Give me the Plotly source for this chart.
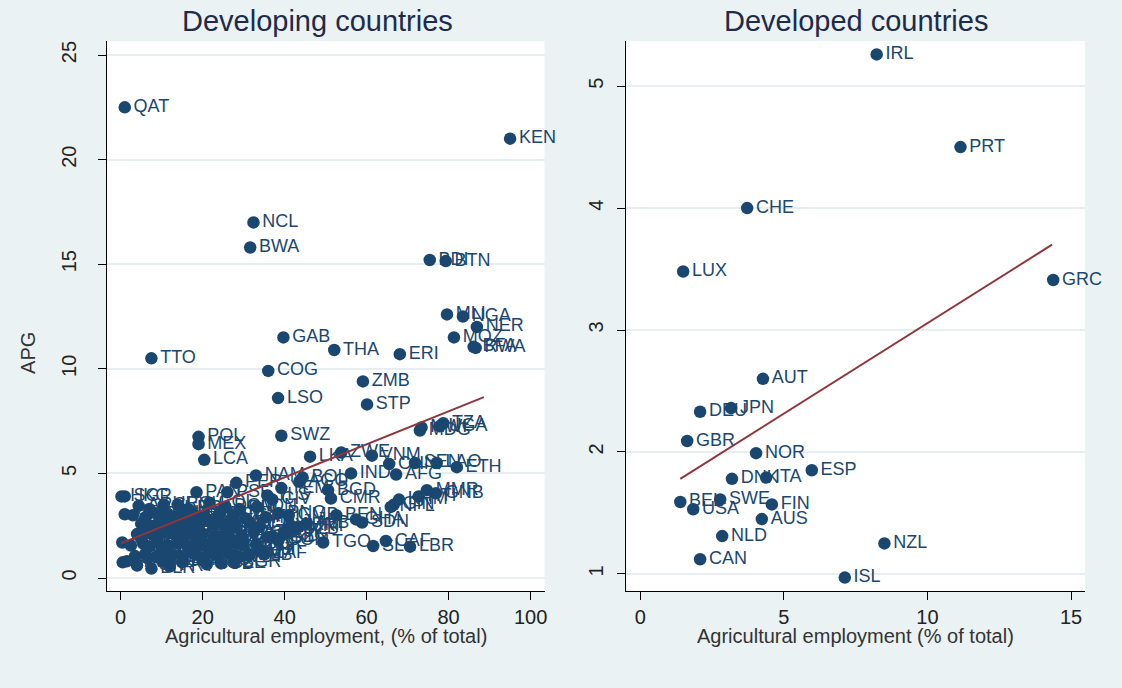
import plotly.graph_objects as go

# ---- Developing countries: agricultural employment share vs APG ----
dev_code = [
    "QAT", "KEN", "NCL", "BWA", "BDI", "BTN", "MLI", "NGA", "NER", "MOZ", "BFA", "RWA",
    "GAB", "THA", "ERI", "TTO", "COG", "ZMB", "LSO", "STP", "MDG", "MWI", "TZA", "UGA",
    "POL", "MEX", "LCA", "SWZ", "LKA", "ZWE", "VNM", "IND", "AFG", "CHN", "SEN", "LAO", "ETH",
    "NAM", "BOL", "YEM", "BGD", "CMR", "MMR", "GNB", "HTI", "KHM", "NPL", "GIN",
    "BEN", "GHA", "SDN", "ALB", "TJK", "UZB", "TGO", "CAF", "SLE", "LBR", "HND",
    "PAN", "HKG", "SGP", "KWT", "MAC", "BHR",
    "PER", "PSE", "AGO", "TLS", "CIV", "GMB", "MRT", "COM", "DJI",
    "ARG", "CHL", "URY", "ECU", "BRA", "COL", "DOM", "PHL", "IDN",
    "SAU", "OMN", "LBN", "JOR", "TUR", "VEN", "CRI", "SLV", "JAM", "EGY", "GTM", "FJI", "PNG",
    "ARE", "BHS", "MUS", "MYS", "TUN", "DZA", "MAR", "IRN", "SYR", "NIC", "BLZ", "GUY", "ARM",
    "BRN", "LBY", "RUS", "UKR", "KAZ", "HRV", "ROU", "SRB", "MKD", "BIH", "GEO", "AZE", "KGZ",
    "SYC", "EST", "LVA", "LTU", "HUN", "SVK", "SVN", "MNE", "MDA", "TKM", "IRQ", "MNG", "SUR",
    "CPV", "GRD", "DMA", "KNA", "VCT", "ATG", "BRB", "MDV", "TON", "WSM", "VUT", "SLB", "ZAF",
    "KOR", "BLR", "CUB", "CZE", "BGR", "PRY", "PRI",
    "PYF", "GUF", "GLP", "MTQ", "REU", "ABW", "CUW", "GUM", "VIR", "BMU", "CYM", "TCA",
    "MSR", "AIA", "NRU", "TUV",
]
dev_x = [
    1.0, 95.0, 32.4, 31.6, 75.4, 79.3, 79.6, 83.5, 86.9, 81.3, 86.1, 86.6,
    39.7, 52.1, 68.1, 7.5, 36.0, 59.1, 38.4, 60.1, 73.0, 73.4, 78.7, 77.8,
    19.0, 19.0, 20.4, 39.2, 46.2, 53.8, 61.3, 56.2, 67.2, 65.5, 71.8, 77.1, 82.0,
    33.0, 44.4, 39.2, 50.6, 51.3, 74.7, 76.9, 72.7, 67.9, 65.9, 66.6,
    52.6, 57.4, 58.9, 45.3, 40.0, 42.3, 49.4, 64.7, 61.6, 70.6, 37.0,
    18.5, 0.2, 1.0, 1.0, 0.4, 0.5,
    28.2, 26.0, 43.6, 35.8, 37.0, 41.0, 43.5, 38.5, 34.0,
    4.4, 7.0, 10.5, 13.9, 16.5, 21.7, 25.5, 29.0, 33.3,
    3.0, 6.0, 8.5, 11.0, 13.0, 15.5, 18.0, 20.5, 24.0, 27.5, 30.5, 35.5, 38.5,
    5.0, 7.5, 9.5, 12.0, 14.5, 17.0, 19.5, 22.5, 25.0, 28.0, 31.5, 33.8, 41.5,
    4.0, 6.5, 8.0, 10.5, 13.0, 15.5, 17.5, 20.0, 23.0, 26.0, 29.5, 32.5, 36.0,
    2.5, 5.5, 7.0, 9.0, 11.5, 14.0, 16.5, 19.0, 21.5, 24.5, 27.0, 30.0, 33.0,
    3.5, 6.0, 8.5, 10.0, 12.5, 15.0, 18.0, 20.5, 23.5, 26.5, 29.0, 31.5, 35.0,
    4.0, 7.5, 21.0, 24.5, 27.5, 12.0, 1.5,
    9.0, 11.5, 14.5, 17.0, 22.0, 5.0, 8.0, 13.5, 16.0, 19.0, 24.0, 27.0,
    10.5, 15.0, 20.0, 6.5,
]
dev_y = [
    22.5, 21.0, 17.0, 15.8, 15.2, 15.15, 12.6, 12.5, 12.0, 11.5, 11.05, 11.0,
    11.5, 10.9, 10.7, 10.5, 9.9, 9.4, 8.6, 8.3, 7.05, 7.2, 7.4, 7.25,
    6.75, 6.4, 5.65, 6.8, 5.8, 6.0, 5.85, 5.0, 4.95, 5.45, 5.5, 5.5, 5.3,
    4.9, 4.8, 4.3, 4.2, 3.8, 4.2, 4.05, 3.9, 3.75, 3.4, 3.5,
    3.0, 2.8, 2.65, 2.6, 2.2, 2.3, 1.7, 1.77, 1.53, 1.5, 2.0,
    4.1, 3.9, 3.9, 3.05, 1.7, 0.75,
    4.55, 4.1, 4.6, 3.95, 3.75, 3.0, 2.45, 1.8, 1.3,
    3.45, 3.3, 3.5, 3.5, 3.3, 3.6, 3.4, 3.3, 3.4,
    3.0, 2.9, 3.1, 3.0, 2.95, 3.1, 3.0, 2.9, 3.05, 3.0, 2.85, 2.9, 3.1,
    2.6, 2.5, 2.7, 2.55, 2.65, 2.5, 2.7, 2.55, 2.6, 2.5, 2.65, 2.45, 2.5,
    2.1, 2.2, 2.05, 2.2, 2.1, 2.0, 2.2, 2.1, 2.0, 2.15, 2.05, 2.2, 1.95,
    1.55, 1.65, 1.5, 1.7, 1.55, 1.65, 1.5, 1.7, 1.6, 1.5, 1.7, 1.55, 1.6,
    1.05, 1.15, 1.0, 1.2, 1.1, 1.0, 1.15, 1.0, 1.1, 1.2, 1.0, 1.1, 1.15,
    0.6, 0.45, 0.65, 0.7, 0.75, 0.55, 0.8,
    1.85, 1.35, 1.85, 1.3, 1.35, 1.9, 2.4, 2.35, 2.35, 2.4, 1.8, 1.85,
    0.8, 0.75, 0.85, 0.95,
]
# fitted line end points (linear fit, developing sample)
dev_fit_x = [0.2, 88.6]
dev_fit_y = [1.67, 8.65]

# ---- Developed countries ----
dvd_code = ["IRL", "PRT", "CHE", "LUX", "GRC", "AUT", "DEU", "JPN", "GBR", "NOR", "ESP",
            "DNK", "ITA", "BEL", "SWE", "USA", "FIN", "AUS", "NLD", "CAN", "NZL", "ISL"]
dvd_x = [8.23, 11.15, 3.72, 1.49, 14.38, 4.27, 2.08, 3.16, 1.63, 4.03, 5.97,
         3.19, 4.38, 1.39, 2.78, 1.84, 4.58, 4.23, 2.85, 2.08, 8.50, 7.12]
dvd_y = [5.26, 4.50, 4.00, 3.48, 3.41, 2.60, 2.33, 2.36, 2.09, 1.99, 1.85,
         1.78, 1.79, 1.59, 1.61, 1.53, 1.57, 1.45, 1.31, 1.12, 1.25, 0.97]
dvd_fit_x = [1.39, 14.34]
dvd_fit_y = [1.78, 3.70]

W, H = 1122, 688
NAVY = "#1A476F"
MAROON = "#90353B"
BG = "#EAF2F3"
FONT = "Liberation Sans, Arial, sans-serif"

fig = go.Figure()

fig.add_trace(go.Scatter(
    x=dev_x, y=dev_y, text=dev_code, mode="markers+text",
    textposition="middle right", cliponaxis=False,
    marker=dict(size=12.5, color=NAVY),
    textfont=dict(size=18, color=NAVY, family=FONT),
    xaxis="x", yaxis="y", showlegend=False, hoverinfo="skip"))
fig.add_trace(go.Scatter(
    x=dev_fit_x, y=dev_fit_y, mode="lines",
    line=dict(color=MAROON, width=2),
    xaxis="x", yaxis="y", showlegend=False))

fig.add_trace(go.Scatter(
    x=dvd_x, y=dvd_y, text=dvd_code, mode="markers+text",
    textposition="middle right", cliponaxis=False,
    marker=dict(size=12.5, color=NAVY),
    textfont=dict(size=18, color=NAVY, family=FONT),
    xaxis="x2", yaxis="y2", showlegend=False, hoverinfo="skip"))
fig.add_trace(go.Scatter(
    x=dvd_fit_x, y=dvd_fit_y, mode="lines",
    line=dict(color=MAROON, width=2),
    xaxis="x2", yaxis="y2", showlegend=False))

axis_common = dict(
    showline=True, linecolor="#000000", linewidth=1.2,
    ticks="outside", ticklen=8, tickcolor="#000000", tickwidth=1,
    zeroline=False, tickfont=dict(size=20, color="#222222", family=FONT),
)
ydom = [1 - 591 / H, 1 - 41 / H]

fig.update_layout(
    width=W, height=H,
    margin=dict(l=0, r=0, t=0, b=0),
    paper_bgcolor=BG, plot_bgcolor="white",
    font=dict(family=FONT),
    xaxis=dict(domain=[107 / W, 546 / W], range=[-3.4, 103.4],
               tickvals=[0, 20, 40, 60, 80, 100], showgrid=False,
               anchor="y", **axis_common),
    yaxis=dict(domain=ydom, range=[-0.62, 25.67],
               tickvals=[0, 5, 10, 15, 20, 25], tickangle=-90,
               showgrid=True, gridcolor="#E6EEF0", gridwidth=2,
               ticklabelstandoff=14, anchor="x", **axis_common),
    xaxis2=dict(domain=[628 / W, 1088 / W], range=[-0.49, 15.49],
                tickvals=[0, 5, 10, 15], showgrid=False,
                anchor="y2", **axis_common),
    yaxis2=dict(domain=ydom, range=[0.86, 5.37],
                tickvals=[1, 2, 3, 4, 5], tickangle=-90,
                showgrid=True, gridcolor="#E6EEF0", gridwidth=2,
                ticklabelstandoff=6, anchor="x2", **axis_common),
)

ann = [
    dict(text="Developing countries", x=318 / W, y=1 - 21 / H, size=29, color="#1E2B4A"),
    dict(text="Developed countries", x=858 / W, y=1 - 21 / H, size=29, color="#1E2B4A"),
    dict(text="Agricultural employment, (% of total)", x=326.5 / W, y=1 - 636 / H, size=20, color="#333333"),
    dict(text="Agricultural employment (% of total)", x=858 / W, y=1 - 636 / H, size=20, color="#333333"),
]
for a in ann:
    fig.add_annotation(text=a["text"], x=a["x"], y=a["y"], xref="paper", yref="paper",
                       xanchor="center", yanchor="middle", showarrow=False,
                       font=dict(size=a["size"], color=a["color"], family=FONT))
fig.add_annotation(text="APG", x=28 / W, y=1 - 353 / H, xref="paper", yref="paper",
                   xanchor="center", yanchor="middle", showarrow=False, textangle=-90,
                   font=dict(size=20, color="#333333", family=FONT))

fig.write_html("out.html")
